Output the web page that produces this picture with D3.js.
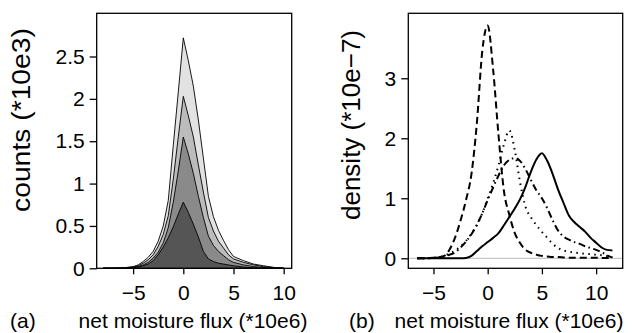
<!DOCTYPE html>
<html>
<head>
<meta charset="utf-8">
<script src="https://cdn.jsdelivr.net/npm/d3@7"></script>
<style>
  body { margin: 0; background: #fff; }
  svg text { font-family: "Liberation Sans", Arial, sans-serif; fill: #000; }
</style>
</head>
<body>
<div id="chart"></div>
<script>
// panel (a): counts (*10e3), overlapping histograms, biggest first
const xA = [-8, -7, -6, -5, -4.5, -4, -3.5, -3, -2.5, -2, -1.5, -1, -0.5, 0, 0.5, 1, 1.5, 2, 2.5, 3, 3.5, 4, 4.5, 5, 6, 7, 8, 9, 10];
const countsAll = [0, 0, 0.005, 0.02, 0.04, 0.08, 0.13, 0.2, 0.32, 0.5, 0.8, 1.45, 2.08, 2.72, 2.45, 2.15, 1.75, 1.3, 0.85, 0.61, 0.45, 0.33, 0.22, 0.14, 0.09, 0.05, 0.03, 0.01, 0];
const counts3 = [0, 0, 0.004, 0.015, 0.03, 0.06, 0.1, 0.16, 0.26, 0.4, 0.62, 1.05, 1.55, 2.03, 1.8, 1.55, 1.22, 0.9, 0.6, 0.44, 0.32, 0.24, 0.16, 0.11, 0.07, 0.04, 0.02, 0.01, 0];
const counts2 = [0, 0, 0, 0.01, 0.02, 0.04, 0.07, 0.12, 0.19, 0.3, 0.48, 0.78, 1.15, 1.55, 1.35, 1.12, 0.85, 0.6, 0.38, 0.27, 0.2, 0.15, 0.1, 0.07, 0.04, 0.02, 0.01, 0, 0];
const counts1 = [0, 0, 0, 0.005, 0.015, 0.03, 0.05, 0.09, 0.16, 0.25, 0.36, 0.49, 0.64, 0.78, 0.66, 0.52, 0.37, 0.2, 0.11, 0.08, 0.06, 0.05, 0.04, 0.03, 0.015, 0.005, 0, 0, 0];
const fillsA = ["#e2e2e2", "#bcbcbc", "#8a8a8a", "#555555"];
const ticksAx = [-5, 0, 5, 10];
const ticksAy = [0, 0.5, 1, 1.5, 2, 2.5];

// panel (b): density (*10e-7)
const xB = [-6.5, -6, -5.5, -5, -4.5, -4, -3.5, -3, -2.5, -2, -1.5, -1, -0.5, 0, 0.5, 1, 1.5, 2, 2.5, 3, 3.5, 4, 4.5, 5, 5.5, 6, 6.5, 7, 7.5, 8, 8.5, 9, 9.5, 10, 10.5, 11, 11.5];
const densDashed = [0, 0, 0.005, 0.01, 0.02, 0.04, 0.15, 0.35, 0.63, 0.97, 1.4, 2.25, 3.45, 3.88, 3.15, 2.05, 1.12, 0.72, 0.42, 0.25, 0.14, 0.09, 0.06, 0.04, 0.03, 0.02, 0.02, 0.015, 0.01, 0.01, 0.01, 0.01, 0.01, 0.01, 0.005, 0.005, 0];
const densDotted = [0, 0, 0, 0.005, 0.015, 0.04, 0.08, 0.13, 0.2, 0.29, 0.41, 0.55, 0.75, 1.0, 1.25, 1.55, 1.9, 2.13, 1.8, 1.25, 0.85, 0.68, 0.55, 0.44, 0.34, 0.24, 0.17, 0.13, 0.11, 0.095, 0.085, 0.075, 0.07, 0.06, 0.05, 0.035, 0.02];
const densDashDot = [0, 0, 0, 0.005, 0.015, 0.03, 0.06, 0.1, 0.18, 0.28, 0.4, 0.56, 0.75, 0.97, 1.18, 1.38, 1.55, 1.64, 1.67, 1.62, 1.48, 1.3, 1.13, 1.0, 0.83, 0.63, 0.46, 0.36, 0.31, 0.27, 0.24, 0.2, 0.17, 0.14, 0.1, 0.05, 0.01];
const densSolid = [0, 0, 0, 0, 0, 0, 0, 0, 0, 0.005, 0.04, 0.12, 0.2, 0.27, 0.34, 0.42, 0.55, 0.69, 0.83, 0.99, 1.2, 1.45, 1.65, 1.75, 1.62, 1.4, 1.14, 0.92, 0.71, 0.6, 0.52, 0.44, 0.34, 0.26, 0.18, 0.14, 0.13];
const dashesB = ["7,4", "1.5,4.5", "7,3.5,1.5,3.5", null];
const ticksBx = [-5, 0, 5, 10];
const ticksBy = [0, 1, 2, 3];

const sirina = 632, visina = 333;
const fontVel = 21;
const fontNaslov = 26;

const svg = d3.select("#chart").append("svg")
  .attr("width", sirina).attr("height", visina)
  .attr("viewBox", `0 0 ${sirina} ${visina}`);

// helper: box + axes in R style
function okvir(g, x, y, xt, yt, fmt) {
  const [x0, x1] = x.range();
  const [y0, y1] = y.range();
  g.append("rect")
    .attr("x", x0).attr("y", y1)
    .attr("width", x1 - x0).attr("height", y0 - y1)
    .attr("fill", "none").attr("stroke", "#000").attr("stroke-width", 1.3);
  g.append("g")
    .attr("transform", `translate(0,${y0})`)
    .call(d3.axisBottom(x).tickValues(xt).tickSize(6).tickPadding(11)
      .tickFormat(d => d < 0 ? "\u2212" + Math.abs(d) : d))
    .call(a => a.select(".domain").remove())
    .call(a => a.selectAll("line").attr("stroke-width", 1.3))
    .call(a => a.selectAll("text").attr("font-size", fontVel).attr("font-family", null));
  g.append("g")
    .attr("transform", `translate(${x0},0)`)
    .call(d3.axisLeft(y).tickValues(yt).tickSize(7).tickPadding(5).tickFormat(fmt))
    .call(a => a.select(".domain").remove())
    .call(a => a.selectAll("line").attr("stroke-width", 1.3))
    .call(a => a.selectAll("text").attr("font-size", fontVel).attr("font-family", null));
}

// ---- panel (a)
const xSkalaA = d3.scaleLinear().domain([-8.63, 10.8]).range([96.7, 291.7]);
const ySkalaA = d3.scaleLinear().domain([0, 3.01]).range([268.3, 13.3]);
const gA = svg.append("g");
const povrsina = d3.area()
  .x((d, i) => xSkalaA(xA[i]))
  .y0(ySkalaA(0))
  .y1(d => ySkalaA(d));
[countsAll, counts3, counts2, counts1].forEach((serija, k) => {
  gA.append("path")
    .attr("d", povrsina(serija))
    .attr("fill", fillsA[k])
    .attr("stroke", "#000")
    .attr("stroke-width", 0.9)
    .attr("stroke-linejoin", "round");
});
okvir(gA, xSkalaA, ySkalaA, ticksAx, ticksAy, d => d);

gA.append("text")
  .attr("transform", `translate(30,120) rotate(-90)`)
  .attr("text-anchor", "middle")
  .attr("font-size", fontNaslov)
  .attr("textLength", 184)
  .attr("lengthAdjust", "spacingAndGlyphs")
  .text("counts (*10e3)");
gA.append("text")
  .attr("x", 193).attr("y", 328)
  .attr("text-anchor", "middle")
  .attr("font-size", fontVel)
  .text("net moisture flux (*10e6)");
gA.append("text")
  .attr("x", 10).attr("y", 328)
  .attr("font-size", fontVel)
  .text("(a)");

// ---- panel (b)
const xSkalaB = d3.scaleLinear().domain([-7.32, 12.45]).range([408.3, 622.7]);
const ySkalaB = d3.scaleLinear().domain([-0.167, 4.083]).range([268.3, 13.3]);
const gB = svg.append("g");
gB.append("line")
  .attr("x1", xSkalaB.range()[0]).attr("x2", xSkalaB.range()[1])
  .attr("y1", ySkalaB(0)).attr("y2", ySkalaB(0))
  .attr("stroke", "#c8c8c8").attr("stroke-width", 1.2);
const linija = d3.line()
  .x((d, i) => xSkalaB(xB[i]))
  .y(d => ySkalaB(d))
  .curve(d3.curveMonotoneX);
[densDashed, densDotted, densDashDot, densSolid].forEach((serija, k) => {
  gB.append("path")
    .attr("d", linija(serija))
    .attr("fill", "none")
    .attr("stroke", "#000")
    .attr("stroke-width", 2)
    .attr("stroke-dasharray", dashesB[k]);
});
okvir(gB, xSkalaB, ySkalaB, ticksBx, ticksBy, d => d);

gB.append("text")
  .attr("transform", `translate(360,125) rotate(-90)`)
  .attr("text-anchor", "middle")
  .attr("font-size", fontNaslov)
  .attr("textLength", 190)
  .attr("lengthAdjust", "spacingAndGlyphs")
  .text("density (*10e\u22127)");
gB.append("text")
  .attr("x", 509).attr("y", 328)
  .attr("text-anchor", "middle")
  .attr("font-size", fontVel)
  .text("net moisture flux (*10e6)");
gB.append("text")
  .attr("x", 349).attr("y", 328)
  .attr("font-size", fontVel)
  .text("(b)");
</script>
</body>
</html>
